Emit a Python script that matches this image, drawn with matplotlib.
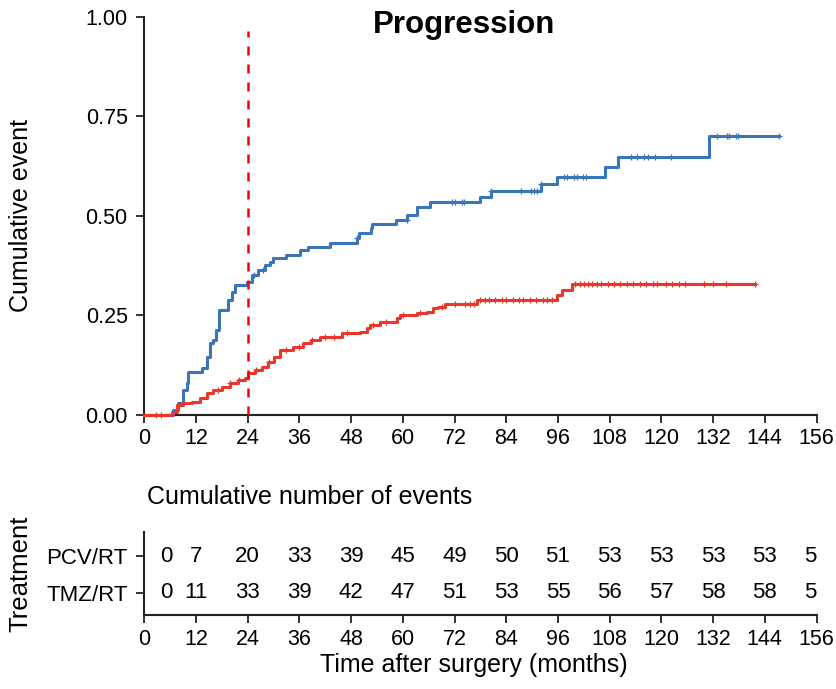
import numpy as np
import matplotlib
matplotlib.use("Agg")
import matplotlib.pyplot as plt

plt.rcParams["font.family"] = ["Liberation Sans", "DejaVu Sans"]

# cumulative incidence of progression (months, fraction)
tmz_time = [0, 5.6, 6.7, 7.9, 9.0, 9.8, 10.2, 13.3, 14.5, 15.2, 16.0, 16.6, 17.3,
            19.5, 20.4, 21.0, 23.8, 24.9, 26.4, 28.0, 29.2, 29.9, 33.0, 36.1, 38.1,
            43.1, 49.4, 49.9, 52.5, 52.8, 58.4, 61.0, 63.2, 66.3, 77.9, 80.4, 92.1,
            95.7, 106.9, 109.9, 131.0, 147.3]
tmz_cum = [0, 0.0, 0.011, 0.028, 0.062, 0.078, 0.108, 0.116, 0.145, 0.179, 0.187, 0.212, 0.263,
           0.288, 0.309, 0.326, 0.334, 0.351, 0.363, 0.376, 0.384, 0.393, 0.401, 0.414, 0.422,
           0.432, 0.443, 0.455, 0.468, 0.479, 0.489, 0.501, 0.522, 0.534, 0.547, 0.562, 0.580,
           0.597, 0.622, 0.647, 0.700, 0.700]
tmz_censor = [25.5, 27.5, 49.4, 60.9, 71.3, 72.0, 73.8, 74.3, 80.5, 87.5, 89.8, 90.5,
              91.2, 92.1, 97.5, 98.2, 99.8, 100.5, 101.7, 102.6, 113.0, 114.4, 116.0,
              116.8, 118.6, 122.3, 133.0, 135.3, 135.8, 137.4, 137.7, 147.3]

pcv_time = [0, 6.4, 7.5, 9.0, 11.0, 12.9, 14.5, 16.0, 18.0, 19.9, 21.8, 23.4, 24.1,
            25.7, 27.2, 28.8, 30.2, 31.5, 34.6, 36.9, 38.8, 40.8, 45.8, 50.0, 51.6,
            52.4, 54.7, 58.6, 59.3, 63.2, 65.5, 67.1, 68.2, 69.8, 77.2, 95.7, 96.9,
            99.2, 141.7]
pcv_cum = [0, 0.007, 0.024, 0.028, 0.032, 0.041, 0.053, 0.062, 0.070, 0.078, 0.087, 0.091, 0.104,
           0.112, 0.120, 0.133, 0.145, 0.162, 0.170, 0.179, 0.187, 0.196, 0.204, 0.208, 0.217,
           0.225, 0.233, 0.242, 0.250, 0.254, 0.258, 0.267, 0.271, 0.278, 0.288, 0.300, 0.313,
           0.328, 0.328]
pcv_censor = [2.7, 3.9, 17, 20, 22, 26, 29, 33, 36, 39, 42, 44, 47, 53, 56, 60, 64, 69,
              72, 74.5, 75.5, 76.5, 78, 79, 80, 81.5, 83, 84, 85.5, 87, 88, 89.5, 91,
              92.5, 93.5, 94.5, 100, 101, 102, 103, 104, 105, 106, 107.5, 109, 110.5,
              112, 113.5, 115, 116.5, 118, 119, 121, 122.5, 124, 125.5, 130, 132, 135,
              141.7]

landmark = 24

# risk table: cumulative number of events
table_times = [5, 12, 24, 36, 48, 60, 72, 84, 96, 108, 120, 132, 144, 156]
groups = ["PCV/RT", "TMZ/RT"]
pcv_events = [0, 7, 20, 33, 39, 45, 49, 50, 51, 53, 53, 53, 53, 53]
tmz_events = [0, 11, 33, 39, 42, 47, 51, 53, 55, 56, 57, 58, 58, 58]

blue = "#3A75BA"
red = "#E8372B"
xticks = np.arange(0, 157, 12)


def step_value(times, values, t):
    idx = np.searchsorted(times, t, side="right") - 1
    return np.asarray(values)[idx]


def style_axis(ax):
    for s in ["top", "right"]:
        ax.spines[s].set_visible(False)
    for s in ["left", "bottom"]:
        ax.spines[s].set_linewidth(1.5)
        ax.spines[s].set_color("#222222")
    ax.tick_params(length=6, width=1.3, labelsize=15.5, color="#222222")


fig = plt.figure(figsize=(8.36, 6.89), dpi=100)
ax = fig.add_axes([0.1726, 0.3984, 0.8041, 0.5774])
tab = fig.add_axes([0.1726, 0.1074, 0.8041, 0.1205])

# main curves
for t, c, cens, col in [(tmz_time, tmz_cum, tmz_censor, blue),
                        (pcv_time, pcv_cum, pcv_censor, red)]:
    ax.step(t, c, where="post", color=col, lw=2.2, clip_on=False, zorder=3)
    ax.plot(cens, step_value(t, c, cens), ls="none", marker="+", ms=5, mew=0.9,
            color=col, clip_on=False, zorder=3)

ax.axvline(landmark, ymin=0, ymax=0.965, color="#FF0000", lw=1.8,
           ls=(0, (3.6, 3.6)), zorder=4)

ax.set_xlim(0, 156)
ax.set_ylim(0, 1)
ax.set_xticks(xticks)
ax.set_yticks([0, 0.25, 0.5, 0.75, 1.0])
ax.set_yticklabels(["0.00", "0.25", "0.50", "0.75", "1.00"])
style_axis(ax)
ax.tick_params(axis="x", pad=4)
ax.tick_params(axis="y", pad=6)
ax.set_ylabel("Cumulative event", fontsize=18)
ax.yaxis.set_label_coords(-0.166, 0.5)

fig.text(0.5556, 0.9637, "Progression", fontsize=22.5, fontweight="bold",
         ha="center", va="center")

# risk table
rows = {"PCV/RT": pcv_events, "TMZ/RT": tmz_events}
ypos = {"PCV/RT": 2, "TMZ/RT": 1}
for g in groups:
    for tt, n in zip(table_times, rows[g]):
        tab.text(tt, ypos[g], str(n), fontsize=16, ha="center", va="center",
                 clip_on=True)

tab.set_xlim(0, 156)
tab.set_ylim(0.405, 2.65)
tab.set_xticks(xticks)
tab.set_yticks([ypos[g] for g in groups])
tab.set_yticklabels(groups)
style_axis(tab)
tab.tick_params(axis="x", pad=4)
tab.tick_params(axis="y", pad=6, labelsize=16)
tab.set_ylabel("Treatment", fontsize=18.5)
tab.yaxis.set_label_coords(-0.167, 0.5)
tab.set_xlabel("Time after surgery (months)", fontsize=18)
tab.xaxis.set_label_coords(0.49, -0.60)
tab.xaxis.label.set_va("center")

fig.text(0.1758, 0.2787, "Cumulative number of events", fontsize=18,
         ha="left", va="center")

fig.savefig("out.png", dpi=100)
